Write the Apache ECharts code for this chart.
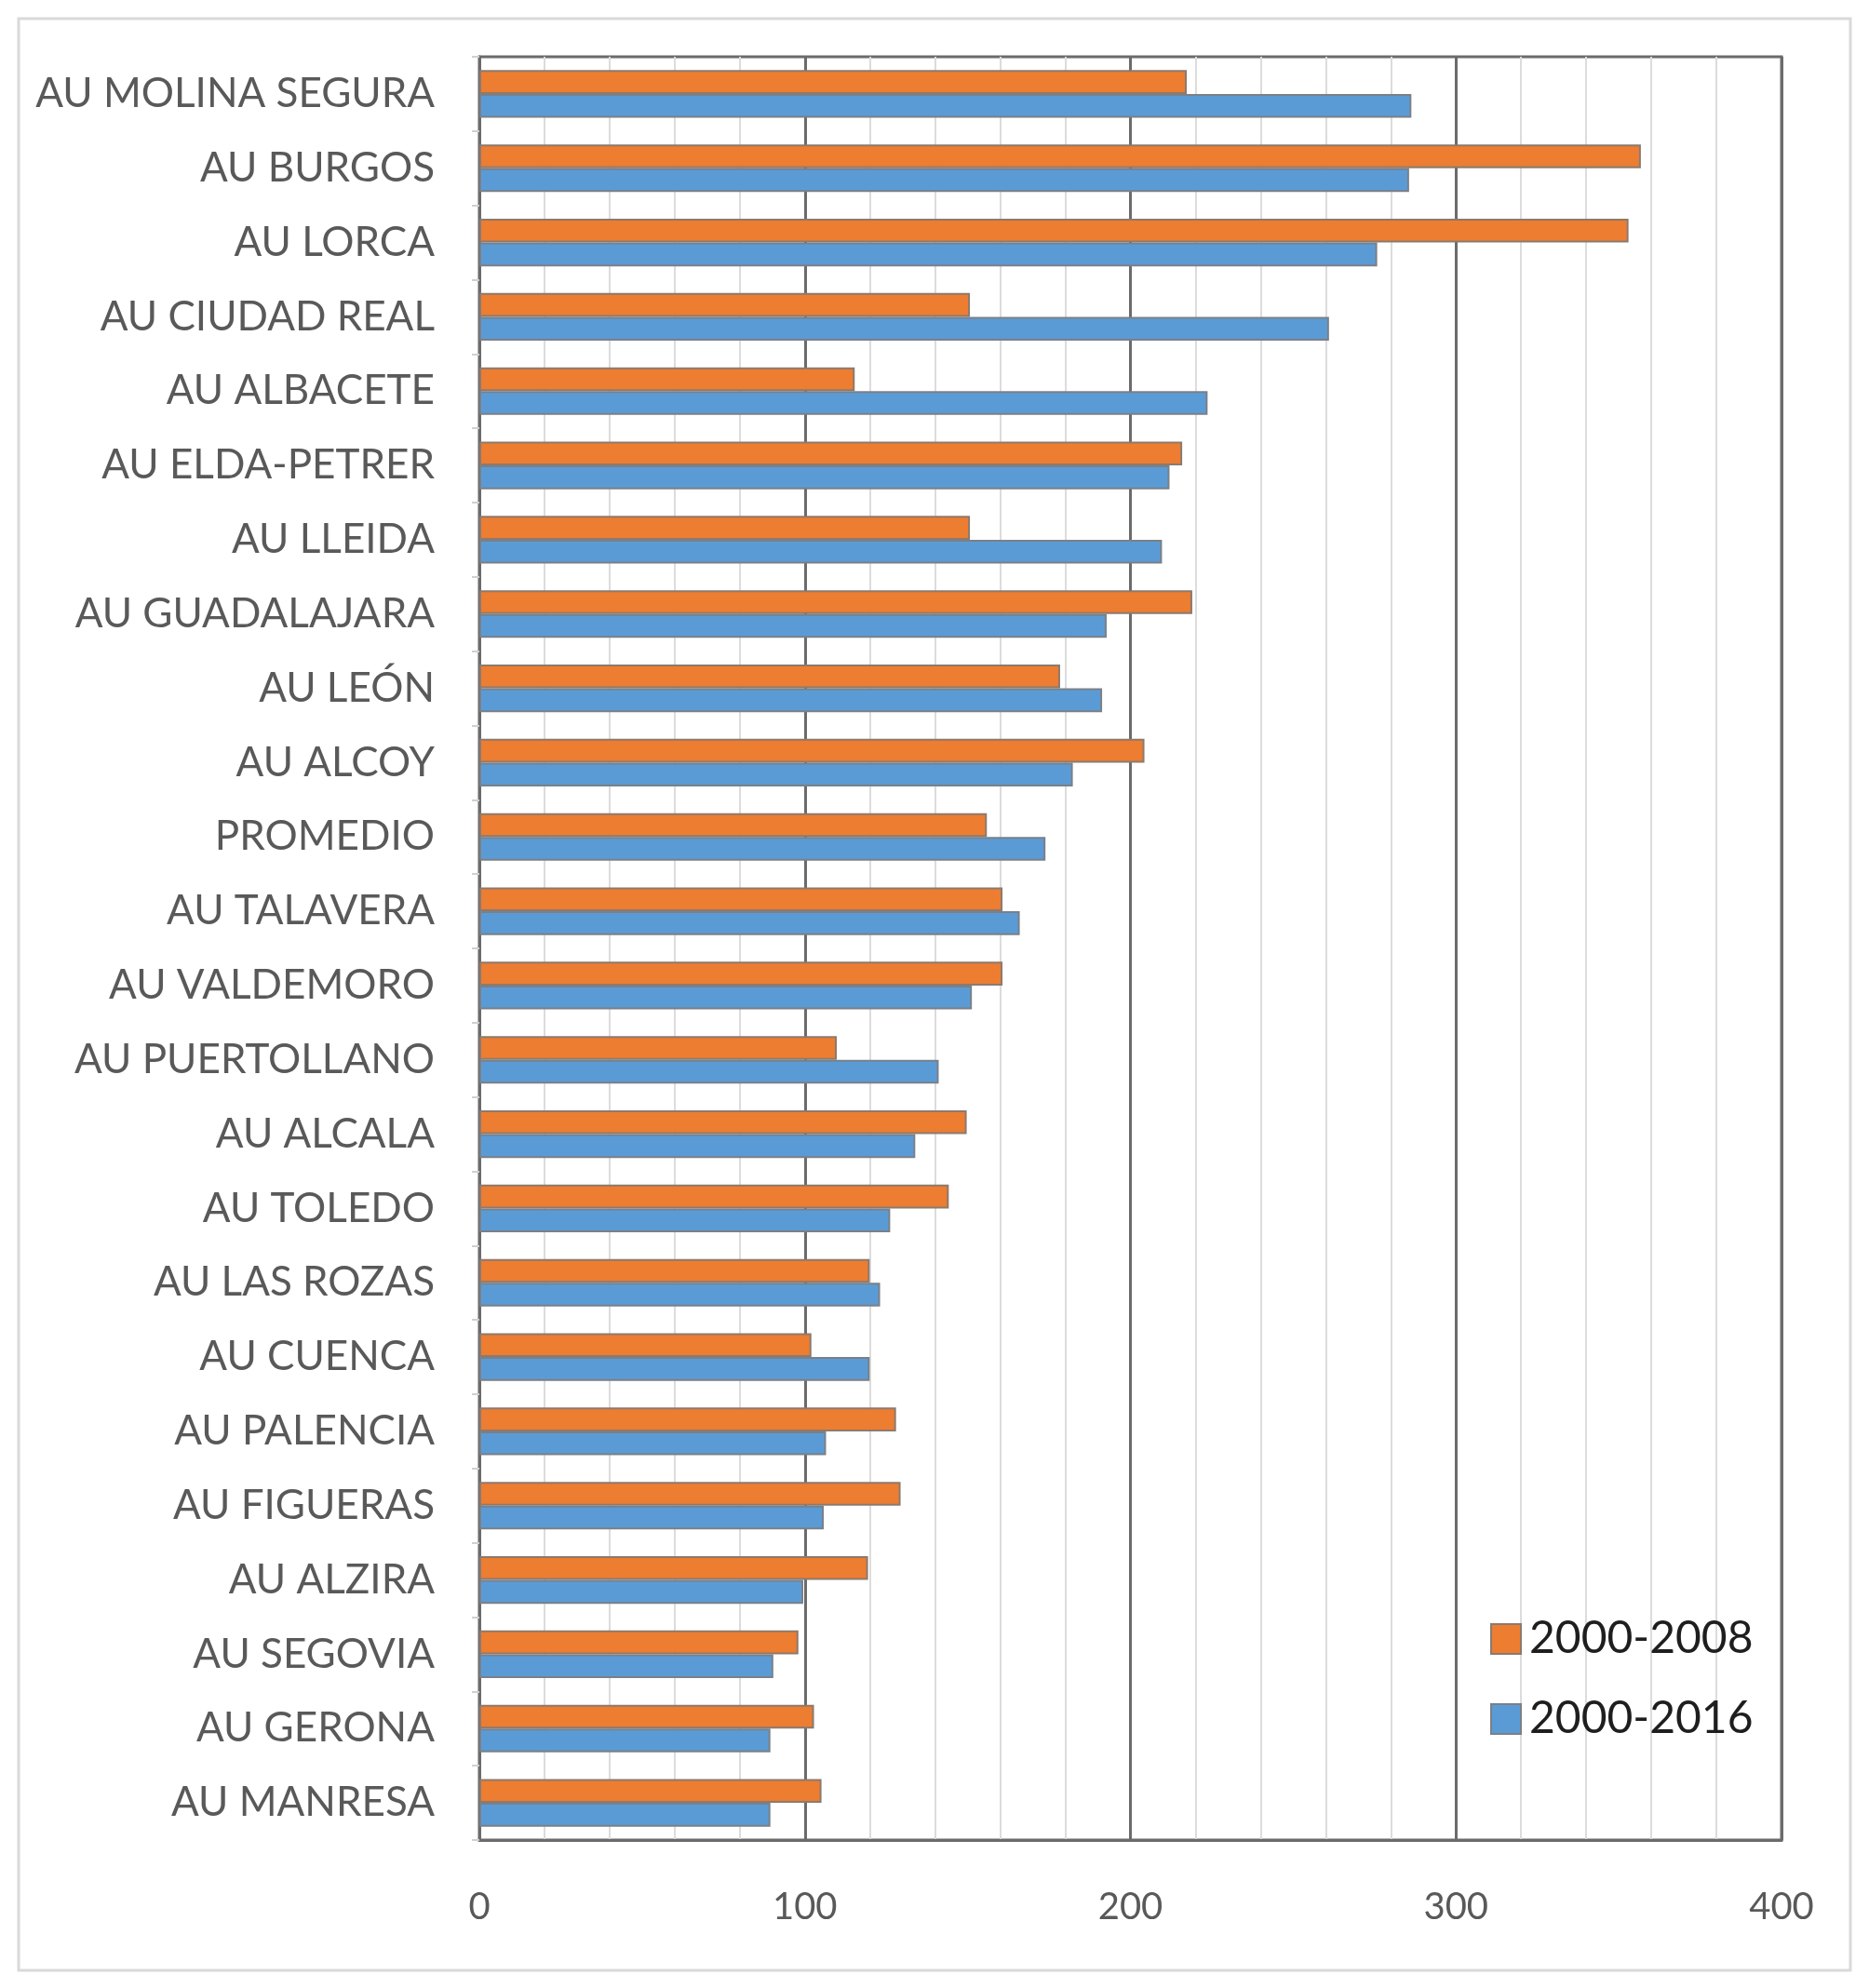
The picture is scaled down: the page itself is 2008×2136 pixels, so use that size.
<!DOCTYPE html>
<html>
<head>
<meta charset="utf-8">
<script src="https://cdn.jsdelivr.net/npm/echarts@6/dist/echarts.min.js"></script>
<style>
html, body { margin: 0; padding: 0; background: #fff; }
#chart { width: 2008px; height: 2136px; }
</style>
</head>
<body>
<div id="chart"></div>
<script>
// categorias, de arriba a abajo
var categories = ['AU MOLINA SEGURA', 'AU BURGOS', 'AU LORCA', 'AU CIUDAD REAL', 'AU ALBACETE',
	'AU ELDA-PETRER', 'AU LLEIDA', 'AU GUADALAJARA', 'AU LEÓN', 'AU ALCOY', 'PROMEDIO',
	'AU TALAVERA', 'AU VALDEMORO', 'AU PUERTOLLANO', 'AU ALCALA', 'AU TOLEDO', 'AU LAS ROZAS',
	'AU CUENCA', 'AU PALENCIA', 'AU FIGUERAS', 'AU ALZIRA', 'AU SEGOVIA', 'AU GERONA', 'AU MANRESA'];
var seriesNames = ['2000-2008', '2000-2016'];
var values2008 = [217.3, 356.8, 353, 150.7, 115.3, 215.9, 150.7, 219, 178.4, 204.3, 155.9,
	160.7, 160.7, 109.8, 149.7, 144.2, 119.9, 102, 128, 129.4, 119.4, 98, 102.8, 105.1];
var values2016 = [286.3, 285.6, 275.8, 261, 223.7, 212, 209.7, 192.7, 191.3, 182.3, 173.9,
	166, 151.3, 141.1, 133.9, 126.2, 123.1, 119.9, 106.5, 105.8, 99.5, 90.3, 89.4, 89.4];
var xTicks = [0, 100, 200, 300, 400];

var chart = echarts.init(document.getElementById('chart'));

var font = 'Lato, "Open Sans", sans-serif';

chart.setOption({
	backgroundColor: '#fff',
	animation: false,
	graphic: [{
		type: 'rect',
		shape: { x: 20, y: 20, width: 1968, height: 2097 },
		style: { fill: 'none', stroke: '#d9d9d9', lineWidth: 3 },
		z: -1
	}],
	legend: {
		orient: 'vertical',
		left: 1596,
		top: 1732,
		icon: 'rect',
		itemWidth: 32,
		itemHeight: 32,
		itemGap: 38,
		data: seriesNames,
		textStyle: { fontFamily: font, fontSize: 48, color: '#1e1e1e', padding: [0, 0, 0, 4] }
	},
	grid: {
		left: 515,
		right: 94,
		top: 61,
		bottom: 159,
		show: true,
		borderColor: '#6b6b6b',
		borderWidth: 3
	},
	xAxis: {
		type: 'value',
		min: xTicks[0],
		max: xTicks[xTicks.length - 1],
		interval: 100,
		axisLine: { show: true, lineStyle: { color: '#6b6b6b', width: 3 } },
		axisTick: { show: false },
		axisLabel: { fontFamily: font, fontSize: 40, color: '#595959', margin: 52 },
		splitLine: { show: true, lineStyle: { color: '#6b6b6b', width: 3 } },
		minorTick: { show: false, splitNumber: 5 },
		minorSplitLine: { show: true, lineStyle: { color: '#dcdcdc', width: 2 } }
	},
	yAxis: {
		type: 'category',
		inverse: true,
		data: categories,
		axisLine: { show: true, lineStyle: { color: '#6b6b6b', width: 3 } },
		axisTick: { show: true, length: 8, lineStyle: { color: '#d0d0d0', width: 2 } },
		axisLabel: { fontFamily: font, fontSize: 44, color: '#595959', margin: 48 }
	},
	series: [{
		name: seriesNames[0],
		type: 'bar',
		data: values2008,
		barGap: '0%',
		barCategoryGap: '36%',
		itemStyle: { color: '#ED7D31', borderColor: '#8c7a6e', borderWidth: 2 },
		z: 3
	}, {
		name: seriesNames[1],
		type: 'bar',
		data: values2016,
		barGap: '0%',
		barCategoryGap: '36%',
		itemStyle: { color: '#5B9BD5', borderColor: '#7a8088', borderWidth: 2 },
		z: 3
	}]
});
</script>
</body>
</html>
